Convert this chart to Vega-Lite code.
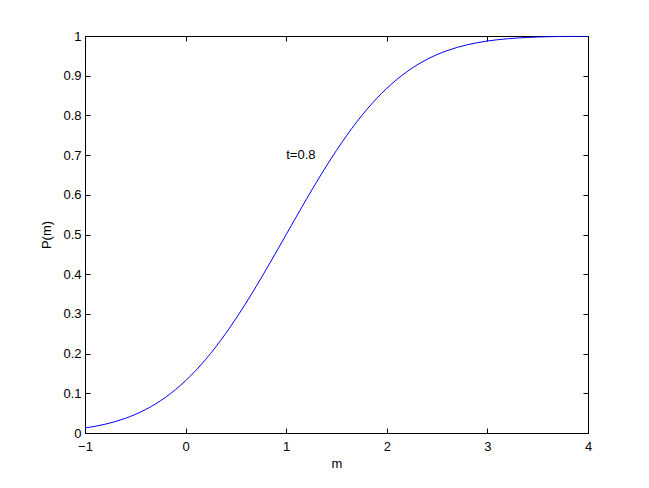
{
  "$schema": "https://vega.github.io/schema/vega-lite/v6.json",
  "width": 503,
  "height": 397,
  "autosize": "none",
  "padding": {"left": 85, "top": 36, "right": 61, "bottom": 55},
  "background": "white",
  "config": {
    "view": {"stroke": "black", "strokeWidth": 1},
    "axis": {
      "grid": false,
      "domainColor": "black",
      "tickColor": "black",
      "labelColor": "black",
      "titleColor": "black",
      "labelFont": "Liberation Sans",
      "titleFont": "Liberation Sans",
      "labelFontSize": 13,
      "titleFontSize": 13,
      "titleFontWeight": "normal",
      "tickSize": -5,
      "labelFlush": false,
      "labelOverlap": false,
      "format": "~f"
    }
  },
  "datasets": {
    "curve": [
      {"m": -1.0, "P": 0.01267}, {"m": -0.9, "P": 0.01683}, {"m": -0.8, "P": 0.02209},
      {"m": -0.7, "P": 0.02868}, {"m": -0.6, "P": 0.03682}, {"m": -0.5, "P": 0.04677},
      {"m": -0.4, "P": 0.05876}, {"m": -0.3, "P": 0.07305}, {"m": -0.2, "P": 0.08986},
      {"m": -0.1, "P": 0.10938}, {"m": 0.0, "P": 0.13178}, {"m": 0.1, "P": 0.15715},
      {"m": 0.2, "P": 0.18555}, {"m": 0.3, "P": 0.21692}, {"m": 0.4, "P": 0.25117},
      {"m": 0.5, "P": 0.28808}, {"m": 0.6, "P": 0.32736}, {"m": 0.7, "P": 0.36866},
      {"m": 0.8, "P": 0.41153}, {"m": 0.9, "P": 0.45549}, {"m": 1.0, "P": 0.5},
      {"m": 1.1, "P": 0.54451}, {"m": 1.2, "P": 0.58847}, {"m": 1.3, "P": 0.63134},
      {"m": 1.4, "P": 0.67264}, {"m": 1.5, "P": 0.71192}, {"m": 1.6, "P": 0.74883},
      {"m": 1.7, "P": 0.78308}, {"m": 1.8, "P": 0.81445}, {"m": 1.9, "P": 0.84285},
      {"m": 2.0, "P": 0.86822}, {"m": 2.1, "P": 0.89062}, {"m": 2.2, "P": 0.91014},
      {"m": 2.3, "P": 0.92695}, {"m": 2.4, "P": 0.94124}, {"m": 2.5, "P": 0.95323},
      {"m": 2.6, "P": 0.96318}, {"m": 2.7, "P": 0.97132}, {"m": 2.8, "P": 0.97791},
      {"m": 2.9, "P": 0.98317}, {"m": 3.0, "P": 0.98733}, {"m": 3.1, "P": 0.99056},
      {"m": 3.2, "P": 0.99305}, {"m": 3.3, "P": 0.99494}, {"m": 3.4, "P": 0.99636},
      {"m": 3.5, "P": 0.99741}, {"m": 3.6, "P": 0.99817}, {"m": 3.7, "P": 0.99873},
      {"m": 3.8, "P": 0.99913}, {"m": 3.9, "P": 0.99941}, {"m": 4.0, "P": 0.9996}
    ],
    "label": [{"m": 1, "P": 0.7, "text": "t=0.8"}]
  },
  "layer": [
    {
      "data": {"name": "curve"},
      "mark": {"type": "line", "color": "#0000ff", "strokeWidth": 1, "interpolate": "monotone", "clip": true},
      "encoding": {
        "x": {"field": "m", "type": "quantitative", "scale": {"domain": [-1, 4], "nice": false, "zero": false},
          "axis": {"title": "m", "values": [-1, 0, 1, 2, 3, 4], "labelPadding": 12, "titlePadding": 4}},
        "y": {"field": "P", "type": "quantitative", "scale": {"domain": [0, 1], "nice": false},
          "axis": {"title": "P(m)", "values": [0, 0.1, 0.2, 0.3, 0.4, 0.5, 0.6, 0.7, 0.8, 0.9, 1], "labelPadding": 9, "titlePadding": 9}}
      }
    },
    {
      "data": {"name": "curve"},
      "mark": {"type": "line", "opacity": 0, "clip": true},
      "encoding": {
        "x": {"field": "m", "type": "quantitative", "scale": {"domain": [-1, 4], "nice": false, "zero": false},
          "axis": {"orient": "top", "title": null, "labels": false, "values": [-1, 0, 1, 2, 3, 4]}},
        "y": {"field": "P", "type": "quantitative", "scale": {"domain": [0, 1], "nice": false},
          "axis": {"orient": "right", "title": null, "labels": false, "values": [0, 0.1, 0.2, 0.3, 0.4, 0.5, 0.6, 0.7, 0.8, 0.9, 1]}}
      }
    },
    {
      "data": {"name": "label"},
      "mark": {"type": "text", "align": "left", "baseline": "middle", "font": "Liberation Sans", "fontSize": 13, "color": "black"},
      "encoding": {
        "x": {"field": "m", "type": "quantitative", "axis": null},
        "y": {"field": "P", "type": "quantitative", "axis": null},
        "text": {"field": "text"}
      }
    }
  ],
  "resolve": {"axis": {"x": "independent", "y": "independent"}}
}
